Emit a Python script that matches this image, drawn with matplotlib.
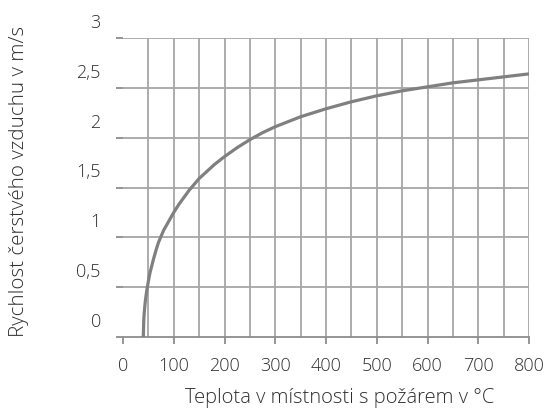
import matplotlib
matplotlib.use("Agg")
import matplotlib.pyplot as plt
from matplotlib.transforms import ScaledTranslation
from matplotlib.ticker import MultipleLocator

# Data
temperature = [40, 41, 42, 43, 44, 45, 47, 50, 53, 56, 60, 65, 70, 75, 80, 90, 100,
               110, 120, 130, 140, 150, 165, 180, 200, 225, 250, 275, 300, 325,
               350, 375, 400, 450, 500, 550, 600, 650, 700, 750, 800]
velocity = [0.0, 0.18, 0.25, 0.31, 0.36, 0.40, 0.47, 0.56, 0.64, 0.70, 0.78, 0.87,
            0.95, 1.01, 1.07, 1.16, 1.25, 1.33, 1.40, 1.47, 1.53, 1.59, 1.66,
            1.73, 1.81, 1.90, 1.98, 2.05, 2.11, 2.16, 2.21, 2.25, 2.29, 2.36,
            2.42, 2.47, 2.51, 2.55, 2.58, 2.61, 2.64]
x_ticks = [0, 100, 200, 300, 400, 500, 600, 700, 800]
y_ticks = [0, 0.5, 1, 1.5, 2, 2.5, 3]
y_tick_labels = ["0", "0,5", "1", "1,5", "2", "2,5", "3"]
x_title = "Teplota v místnosti s požárem v °C"
y_title = "Rychlost čerstvého vzduchu v m/s"

plt.rcParams['font.family'] = ['Open Sans', 'DejaVu Sans']
plt.rcParams['font.weight'] = 'light'
text_color = '#2e2e2e'
grid_color = '#a6a6a6'

fig = plt.figure(figsize=(5.47, 4.10), dpi=100)
ax = fig.add_axes([123/547, 1 - 338/410, (529 - 123)/547, (338 - 39)/410])

ax.plot(temperature, velocity, color='#808080', lw=2.3, solid_capstyle='butt',
        solid_joinstyle='round', zorder=3)

ax.set_xlim(0, 800)
ax.set_ylim(0, 3)
ax.set_xticks(x_ticks)
ax.xaxis.set_minor_locator(MultipleLocator(50))
ax.set_yticks(y_ticks)
ax.set_yticklabels(y_tick_labels)

# gridlines
for v in range(50, 801, 50):
    ax.axvline(v, color=grid_color, lw=1.3, zorder=1)
for v in y_ticks[1:]:
    ax.axhline(v, color=grid_color, lw=1.3, zorder=1)

for s in ['top', 'right', 'left']:
    ax.spines[s].set_visible(False)
ax.spines['bottom'].set_color('#8c8c8c')
ax.spines['bottom'].set_linewidth(1.3)

ax.tick_params(axis='x', which='major', length=5, width=1.3, color='#8c8c8c',
               labelsize=13, labelcolor=text_color, pad=9)
ax.tick_params(axis='x', which='minor', length=0)
ax.tick_params(axis='y', length=5, width=1.3, color='#8c8c8c',
               labelsize=13, labelcolor=text_color, pad=11)

offset = ScaledTranslation(0, 18/100, fig.dpi_scale_trans)
for lab in ax.get_yticklabels():
    lab.set_transform(lab.get_transform() + offset)

fig.text(340/547, 1 - 398/410, x_title, ha='center', va='center',
         fontsize=14.5, color=text_color)
fig.text(19/547, 1 - 181/410, y_title, ha='center', va='center',
         rotation=90, fontsize=14.8, color=text_color)

fig.savefig("out.png", dpi=100)
